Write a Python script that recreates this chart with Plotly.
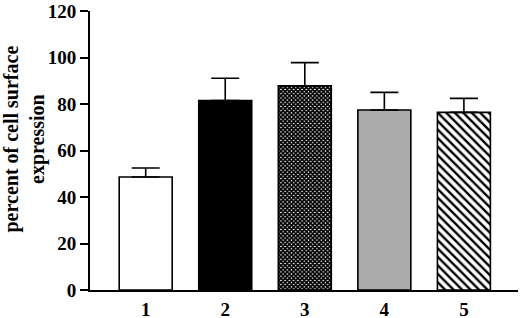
import plotly.graph_objects as go

categories = ["1", "2", "3", "4", "5"]
means = [48.6, 81.5, 87.8, 77.4, 76.4]
errors = [3.9, 9.6, 10.0, 7.6, 6.0]
tick_vals_y = [0, 20, 40, 60, 80, 100, 120]

bar_styles = [
    dict(color="white"),
    dict(color="black"),
    dict(color="white", pattern=dict(shape="x", fgcolor="black", bgcolor="white",
                                     size=3, solidity=0.8, fillmode="replace")),
    dict(color="#b0b0b0", pattern=dict(shape=".", fgcolor="#8c8c8c", bgcolor="#c4c4c4",
                                       size=2, solidity=0.5, fillmode="replace")),
    dict(color="white", pattern=dict(shape="\\", fgcolor="black", bgcolor="white",
                                     size=6, solidity=0.4, fillmode="replace")),
]

fig = go.Figure()
xs = list(range(len(categories)))
for i, cat in enumerate(categories):
    fig.add_trace(go.Bar(
        x=[xs[i]], y=[means[i]], width=0.666, name=cat,
        marker=dict(line=dict(color="black", width=1.6), **bar_styles[i]),
        error_y=dict(type="data", symmetric=False, array=[errors[i]],
                     arrayminus=[0], color="black", thickness=1.6, width=14),
        showlegend=False, hoverinfo="skip",
    ))

fig.update_layout(
    width=520, height=318,
    margin=dict(l=90, r=2, t=11, b=28),
    paper_bgcolor="white", plot_bgcolor="white",
    font=dict(family="Liberation Serif", size=19, color="black"),
    xaxis=dict(range=[-0.70, 4.68], tickvals=xs, ticktext=categories, automargin=False,
               showline=True, linecolor="black", linewidth=2, showgrid=False,
               zeroline=False, ticks="outside", ticklen=1, tickcolor="rgba(0,0,0,0)",
               tickfont=dict(family="Liberation Serif", size=19, weight="bold")),
    yaxis=dict(range=[0, 120], tickvals=tick_vals_y, showline=True, linecolor="black",
               automargin=False, linewidth=2, showgrid=False, zeroline=False,
               ticks="outside", ticklen=8, tickwidth=2, tickcolor="black",
               tickfont=dict(family="Liberation Serif", size=19, weight="bold")),
    annotations=[dict(text="<b>percent of cell surface</b><br><b>expression</b>",
                      xref="paper", yref="paper", x=0, y=0.5, xshift=-66, yshift=11,
                      textangle=-90, showarrow=False, xanchor="center", yanchor="middle",
                      font=dict(family="Liberation Serif", size=20, color="black"))],
)

fig.write_html("out.html", config={"displayModeBar": False},
               post_script="document.body.style.margin='0';")
